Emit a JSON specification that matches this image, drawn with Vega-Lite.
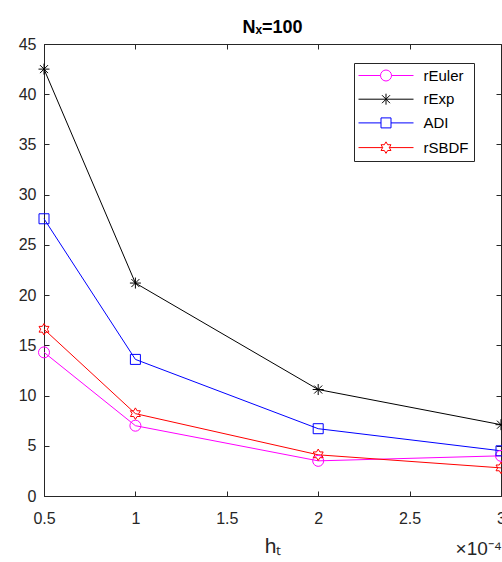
{
  "$schema": "https://vega.github.io/schema/vega-lite/v6.json",
  "width": 457,
  "height": 452,
  "autosize": "none",
  "padding": {"left": 44, "top": 44, "right": 1, "bottom": 66},
  "background": "white",
  "title": {"text": "Nₓ=100", "font": "Liberation Sans", "fontSize": 18, "fontWeight": "bold", "color": "#000000", "anchor": "middle", "frame": "group", "offset": -1},
  "data": {"values": [
    {"series": "rEuler", "h": 0.5, "value": 14.3},
    {"series": "rEuler", "h": 1, "value": 7.0},
    {"series": "rEuler", "h": 2, "value": 3.5},
    {"series": "rEuler", "h": 3, "value": 4.0},
    {"series": "rExp", "h": 0.5, "value": 42.5},
    {"series": "rExp", "h": 1, "value": 21.2},
    {"series": "rExp", "h": 2, "value": 10.6},
    {"series": "rExp", "h": 3, "value": 7.1},
    {"series": "ADI", "h": 0.5, "value": 27.6},
    {"series": "ADI", "h": 1, "value": 13.6},
    {"series": "ADI", "h": 2, "value": 6.7},
    {"series": "ADI", "h": 3, "value": 4.5},
    {"series": "rSBDF", "h": 0.5, "value": 16.6},
    {"series": "rSBDF", "h": 1, "value": 8.2},
    {"series": "rSBDF", "h": 2, "value": 4.1},
    {"series": "rSBDF", "h": 3, "value": 2.8}
  ]},
  "config": {
    "view": {"stroke": "#262626", "strokeWidth": 1},
    "axis": {
      "domainColor": "#262626", "tickColor": "#262626", "labelColor": "#262626",
      "labelFont": "Liberation Sans", "labelFontSize": 16, "tickSize": -5, "grid": false,
      "domainWidth": 1, "tickWidth": 1, "titleFont": "Liberation Sans", "titleColor": "#262626",
      "titleFontWeight": "normal", "labelFlush": false, "labelOverlap": false, "labelBound": false
    }
  },
  "layer": [
    {
      "mark": {"type": "line", "strokeWidth": 1},
      "encoding": {
        "x": {"field": "h", "type": "quantitative", "scale": {"domain": [0.5, 3], "nice": false, "zero": false},
              "axis": {"orient": "bottom", "values": [0.5, 1, 1.5, 2, 2.5, 3], "format": "~g", "title": "hₜ",
                       "titleFontSize": 21, "titleBaseline": "alphabetic", "titleY": 56, "labelBaseline": "alphabetic", "labelPadding": 32}},
        "y": {"field": "value", "type": "quantitative", "scale": {"domain": [0, 45], "nice": false},
              "axis": {"orient": "left", "values": [0, 5, 10, 15, 20, 25, 30, 35, 40, 45], "title": null, "labelPadding": 13}},
        "color": {"field": "series", "type": "nominal",
                  "scale": {"domain": ["rEuler", "rExp", "ADI", "rSBDF"], "range": ["#FF00FF", "#000000", "#0000FF", "#FF0000"]},
                  "legend": {
                    "orient": "none", "legendX": 310, "legendY": 19, "title": null,
                    "strokeColor": "#262626", "fillColor": "white", "padding": 5,
                    "labelFont": "Liberation Sans", "labelFontSize": 15, "labelColor": "#000000",
                    "symbolSize": 100, "symbolOffset": 19.5, "labelOffset": 30, "rowPadding": 7.7,
                    "symbolStrokeWidth": 1, "symbolFillColor": "transparent",
                    "labelExpr": "datum.label + '\u00a0\u00a0\u00a0\u00a0'",
                    "symbolType": {"expr": "datum.value === 'rEuler' ? 'M-5.5,0L-1.1,0M1.1,0L5.5,0M-1.1,0A1.1,1.1 0 1,0 1.1,0A1.1,1.1 0 1,0 -1.1,0Z' : datum.value === 'rExp' ? 'M-5.5,0L5.5,0M0,-1.1L0,1.1M-0.8,-0.8L0.8,0.8M-0.8,0.8L0.8,-0.8' : datum.value === 'ADI' ? 'M-5.5,0L-1,0M1,0L5.5,0M-1,-1L1,-1L1,1L-1,1Z' : 'M-5.5,0L-0.664,0M0.664,0L5.5,0M0,-1.15L0.332,-0.575L0.996,-0.575L0.664,0L0.996,0.575L0.332,0.575L0,1.15L-0.332,0.575L-0.996,0.575L-0.664,0L-0.996,-0.575L-0.332,-0.575Z'"}
                  }}
      }
    },
    {
      "transform": [{"filter": {"field": "series", "equal": "rEuler"}}],
      "mark": {"type": "point", "shape": "M-1.1,0A1.1,1.1 0 1,0 1.1,0A1.1,1.1 0 1,0 -1.1,0Z", "filled": false, "strokeWidth": 1, "size": 100, "opacity": 1},
      "encoding": {
        "x": {"field": "h", "type": "quantitative",
              "axis": {"orient": "top", "values": [0.5, 1, 1.5, 2, 2.5, 3], "labels": false, "title": null, "domain": false}},
        "y": {"field": "value", "type": "quantitative",
              "axis": {"orient": "right", "values": [0, 5, 10, 15, 20, 25, 30, 35, 40, 45], "labels": false, "title": null, "domain": false}},
        "color": {"field": "series", "type": "nominal", "legend": null}
      }
    },
    {
      "transform": [{"filter": {"field": "series", "equal": "rExp"}}],
      "mark": {"type": "point", "shape": "M0,-1.1L0,1.1M-1.1,0L1.1,0M-0.8,-0.8L0.8,0.8M-0.8,0.8L0.8,-0.8", "filled": false, "strokeWidth": 1, "size": 100, "opacity": 1},
      "encoding": {
        "x": {"field": "h", "type": "quantitative", "axis": null},
        "y": {"field": "value", "type": "quantitative", "axis": null},
        "color": {"field": "series", "type": "nominal", "legend": null}
      }
    },
    {
      "transform": [{"filter": {"field": "series", "equal": "ADI"}}],
      "mark": {"type": "point", "shape": "M-1,-1L1,-1L1,1L-1,1Z", "filled": false, "strokeWidth": 1, "size": 100, "opacity": 1},
      "encoding": {
        "x": {"field": "h", "type": "quantitative", "axis": null},
        "y": {"field": "value", "type": "quantitative", "axis": null},
        "color": {"field": "series", "type": "nominal", "legend": null}
      }
    },
    {
      "transform": [{"filter": {"field": "series", "equal": "rSBDF"}}],
      "mark": {"type": "point", "shape": "M0,-1.15L0.332,-0.575L0.996,-0.575L0.664,0L0.996,0.575L0.332,0.575L0,1.15L-0.332,0.575L-0.996,0.575L-0.664,0L-0.996,-0.575L-0.332,-0.575Z", "filled": false, "strokeWidth": 1, "size": 100, "opacity": 1},
      "encoding": {
        "x": {"field": "h", "type": "quantitative", "axis": null},
        "y": {"field": "value", "type": "quantitative", "axis": null},
        "color": {"field": "series", "type": "nominal", "legend": null}
      }
    },
    {
      "data": {"values": [{}]},
      "mark": {"type": "text", "text": "×10⁻⁴", "align": "right", "baseline": "alphabetic", "dx": 1, "dy": 59, "fontSize": 19, "font": "Liberation Sans", "color": "#262626"},
      "encoding": {
        "x": {"datum": 3, "type": "quantitative", "axis": null},
        "y": {"datum": 0, "type": "quantitative", "axis": null}
      }
    }
  ],
  "resolve": {"axis": {"x": "independent", "y": "independent"}}
}
